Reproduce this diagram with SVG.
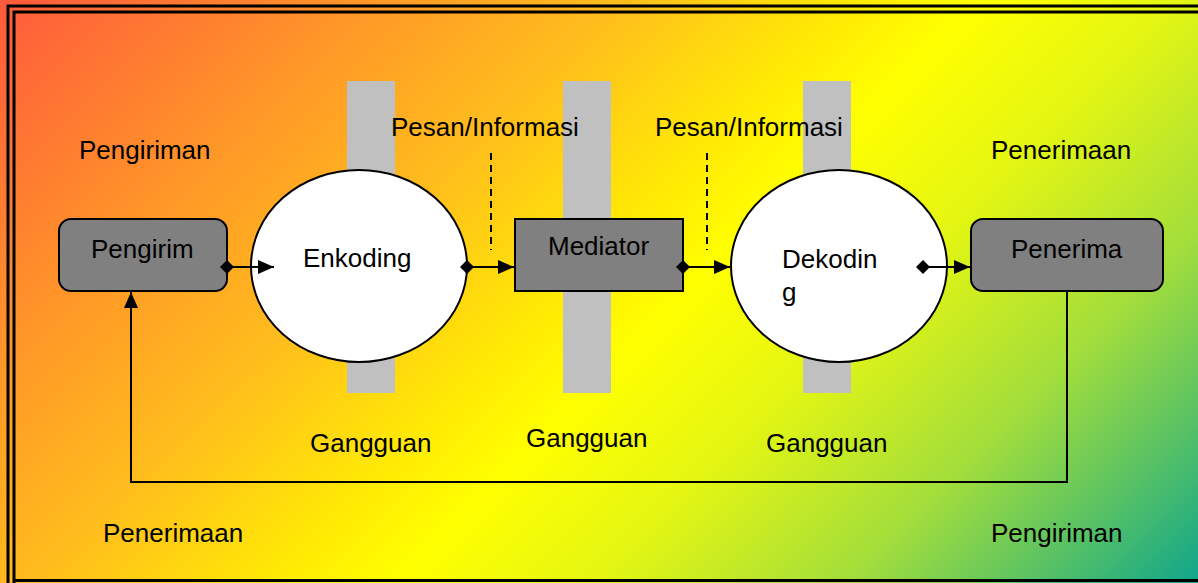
<svg xmlns="http://www.w3.org/2000/svg" width="1198" height="583" viewBox="0 0 1198 583">
<defs>
<linearGradient id="bg" x1="0" y1="0" x2="890" y2="890" gradientUnits="userSpaceOnUse">
<stop offset="0" stop-color="#FF5A3C"/>
<stop offset="0.2" stop-color="#FF9528"/>
<stop offset="0.35" stop-color="#FFBE1C"/>
<stop offset="0.48" stop-color="#FFEA04"/>
<stop offset="0.55" stop-color="#FFFF00"/>
<stop offset="0.66" stop-color="#E4F612"/>
<stop offset="0.8" stop-color="#A4DE3A"/>
<stop offset="0.9" stop-color="#5CC362"/>
<stop offset="1" stop-color="#10A68C"/>
</linearGradient>
<marker id="dia" markerWidth="14" markerHeight="14" refX="7" refY="7" orient="auto" markerUnits="userSpaceOnUse">
<path d="M0,7 L7,0 L14,7 L7,14 Z" fill="#000"/>
</marker>
<marker id="arr" markerWidth="16" markerHeight="14" refX="16" refY="7" orient="auto" markerUnits="userSpaceOnUse">
<path d="M0,0 L16,7 L0,14 Z" fill="#000"/>
</marker>
</defs>
<style>
text{font-family:"Liberation Sans",Arial,sans-serif;font-size:26px;fill:#000}
.box{fill:#808080;stroke:#000;stroke-width:2}
.ell{fill:#fff;stroke:#000;stroke-width:2}
.bar{fill:#C0C0C0}
.con{stroke:#000;stroke-width:2;fill:none}
.dash{stroke:#000;stroke-width:2;stroke-dasharray:7,5;fill:none}
.frame{stroke:#000;stroke-width:3;fill:none}
</style>
<rect x="0" y="0" width="1198" height="583" fill="url(#bg)"/>
<g id="frame">
<path class="frame" d="M8,583 V6 H1198"/>
<path class="frame" d="M14,583 V12 H1198"/>
<path class="frame" d="M14,580.5 H1198"/>
</g>
<g id="bars">
<rect class="bar" x="347" y="81" width="48" height="312"/>
<rect class="bar" x="563" y="81" width="48" height="312"/>
<rect class="bar" x="803" y="81" width="48" height="312"/>
</g>
<g id="pengirim">
<rect class="box" x="59" y="219" width="168" height="72" rx="12"/>
<text x="91" y="258">Pengirim</text>
</g>
<g id="enkoding">
<ellipse class="ell" cx="359" cy="266" rx="108" ry="96"/>
<text x="303" y="267">Enkoding</text>
</g>
<g id="mediator">
<rect class="box" x="515" y="219" width="168" height="72"/>
<text x="548" y="255">Mediator</text>
</g>
<g id="dekoding">
<ellipse class="ell" cx="839" cy="266" rx="108" ry="96"/>
<text x="782" y="268">Dekodin</text>
<text x="782" y="301">g</text>
</g>
<g id="penerima">
<rect class="box" x="971" y="219" width="192" height="72" rx="12"/>
<text x="1011" y="258">Penerima</text>
</g>
<g id="connectors">
<line class="con" x1="227" y1="267" x2="274" y2="267" marker-start="url(#dia)" marker-end="url(#arr)"/>
<line class="con" x1="467" y1="267" x2="514" y2="267" marker-start="url(#dia)" marker-end="url(#arr)"/>
<line class="con" x1="683" y1="267" x2="730" y2="267" marker-start="url(#dia)" marker-end="url(#arr)"/>
<line class="con" x1="923" y1="267" x2="970" y2="267" marker-start="url(#dia)" marker-end="url(#arr)"/>
<path class="con" d="M1067,291 V482 H131 V292" marker-end="url(#arr)"/>
<line class="dash" x1="491" y1="153" x2="491" y2="250"/>
<line class="dash" x1="707" y1="153" x2="707" y2="250"/>
</g>
<g id="labels">
<text x="79" y="159">Pengiriman</text>
<text x="391" y="136">Pesan/Informasi</text>
<text x="655" y="136">Pesan/Informasi</text>
<text x="991" y="159">Penerimaan</text>
<text x="310" y="452">Gangguan</text>
<text x="526" y="447">Gangguan</text>
<text x="766" y="452">Gangguan</text>
<text x="103" y="542">Penerimaan</text>
<text x="991" y="542">Pengiriman</text>
</g>
</svg>
